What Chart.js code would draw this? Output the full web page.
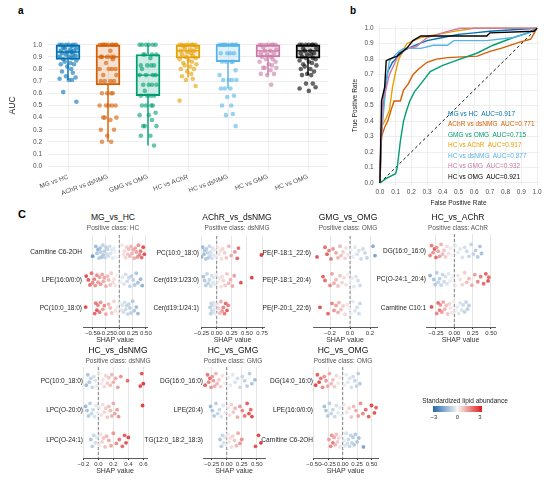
<!DOCTYPE html>
<html><head><meta charset="utf-8">
<script src="https://cdn.jsdelivr.net/npm/chart.js@4.4.1/dist/chart.umd.min.js"></script>
<style>
body{margin:0;background:#fff;font-family:'Liberation Sans',Arial,sans-serif}
#fig{position:relative;width:550px;height:484px;overflow:hidden;background:#fff}
#fig canvas{position:absolute}
.t{position:absolute;white-space:pre;transform:translate(-50%,-50%);line-height:1}
.l{position:absolute;white-space:pre;line-height:1}
</style></head>
<body><div id="fig"></div>
<script>
// ---- panel a: cross-validation AUC per comparison
const GROUPS = ['MG vs HC', 'AChR vs dsNMG', 'GMG vs OMG', 'HC vs AChR', 'HC vs dsNMG', 'HC vs GMG', 'HC vs OMG'];
const GCOL = ['#0072B2', '#D55E00', '#009E73', '#E69F00', '#56B4E9', '#CC79A7', '#000000'];
const AUC_TICKS = [0, 0.1, 0.2, 0.3, 0.4, 0.5, 0.6, 0.7, 0.8, 0.9, 1.0];
const Q1 = [0.88, 0.67, 0.58, 0.89, 0.86, 0.90, 0.89];
const MED = [0.94, 0.90, 0.75, 0.95, 1.00, 0.95, 0.95];
const Q3 = [1.00, 1.00, 0.92, 1.00, 1.00, 1.00, 1.00];
const WLO = [0.71, 0.20, 0.17, 0.73, 0.64, 0.75, 0.75];
const WHI = [1.00, 1.00, 1.00, 1.00, 1.00, 1.00, 1.00];
const aucMgHc = [1,1,1,1,1,1,0.99,0.98,0.97,0.97,0.96,0.95,0.95,0.94,0.94,0.93,0.92,0.92,0.91,0.90,0.90,0.89,0.88,0.87,0.86,0.85,0.84,0.84,0.82,0.80,0.78,0.77,0.74,0.73,0.72,0.71,0.71,0.61,0.53];
const aucAchrDs = [1,1,1,1,1,1,1,1,1,1,0.95,0.9,0.9,0.9,0.9,0.9,0.88,0.85,0.8,0.8,0.8,0.8,0.75,0.75,0.7,0.7,0.7,0.7,0.6,0.6,0.6,0.6,0.5,0.5,0.5,0.5,0.5,0.4,0.4,0.4,0.38,0.3,0.3,0.25,0.2,0.2];
const aucGmgOmg = [1,1,1,1,1,1,0.92,0.92,0.92,0.92,0.89,0.83,0.83,0.83,0.83,0.8,0.75,0.75,0.75,0.75,0.67,0.67,0.67,0.67,0.62,0.58,0.58,0.58,0.58,0.5,0.5,0.5,0.5,0.44,0.42,0.42,0.38,0.33,0.33,0.33,0.25,0.25,0.17];
const aucHcAchr = [1,1,1,1,1,1,1,0.99,0.98,0.97,0.96,0.95,0.95,0.94,0.93,0.92,0.91,0.90,0.89,0.88,0.87,0.86,0.85,0.84,0.83,0.82,0.80,0.80,0.78,0.76,0.74,0.72,0.71,0.66,0.54];
const aucHcDs = [1,1,1,1,1,1,1,1,1,1,0.93,0.93,0.93,0.93,0.86,0.86,0.86,0.86,0.79,0.75,0.71,0.71,0.71,0.71,0.64,0.64,0.64,0.58,0.57,0.5,0.5,0.43,0.42,0.33];
const aucHcGmg = [1,1,1,1,1,1,1,0.98,0.96,0.95,0.95,0.93,0.93,0.92,0.90,0.90,0.88,0.88,0.86,0.86,0.84,0.83,0.81,0.81,0.81,0.79,0.76,0.76,0.75,0.67];
const aucHcOmg = [1,1,1,1,1,1,1,0.97,0.97,0.95,0.95,0.93,0.93,0.92,0.92,0.90,0.89,0.89,0.88,0.87,0.86,0.85,0.84,0.83,0.82,0.80,0.80,0.78,0.76,0.75,0.75,0.68,0.68,0.65,0.64,0.62];
const AUCS = [aucMgHc, aucAchrDs, aucGmgOmg, aucHcAchr, aucHcDs, aucHcGmg, aucHcOmg];

// ---- panel b: ROC curves [fpr, tpr]
const RATE_TICKS = [0, 0.1, 0.2, 0.3, 0.4, 0.5, 0.6, 0.7, 0.8, 0.9, 1.0];
const rocMgHc = [[0,0],[0.005,0.2],[0.02,0.5],[0.03,0.6],[0.04,0.66],[0.05,0.72],[0.08,0.78],[0.1,0.8],[0.12,0.84],[0.16,0.86],[0.2,0.88],[0.25,0.9],[0.3,0.92],[0.4,0.94],[0.5,0.96],[0.6,0.97],[0.7,0.98],[0.85,0.99],[1,1]];
const rocAchrDs = [[0,0],[0.01,0.3],[0.03,0.36],[0.05,0.4],[0.07,0.47],[0.09,0.53],[0.13,0.53],[0.15,0.6],[0.18,0.64],[0.21,0.7],[0.25,0.74],[0.3,0.78],[0.36,0.8],[0.43,0.81],[0.62,0.82],[0.7,0.85],[0.77,0.87],[0.89,0.91],[0.96,0.93],[1,1]];
const rocGmgOmg = [[0,0],[0.04,0.03],[0.1,0.06],[0.11,0.1],[0.13,0.27],[0.15,0.4],[0.17,0.47],[0.19,0.53],[0.22,0.59],[0.26,0.64],[0.32,0.72],[0.4,0.76],[0.51,0.8],[0.62,0.84],[0.72,0.89],[0.85,0.94],[0.94,0.97],[1,1]];
const rocHcAchr = [[0,0],[0.01,0.36],[0.04,0.42],[0.06,0.47],[0.08,0.62],[0.1,0.72],[0.12,0.8],[0.17,0.9],[0.26,0.94],[0.47,0.98],[0.6,1],[1,1]];
const rocHcDs = [[0,0],[0.01,0.32],[0.04,0.64],[0.06,0.79],[0.12,0.85],[0.15,0.87],[0.26,0.87],[0.34,0.89],[0.43,0.89],[0.47,0.92],[0.68,0.92],[0.85,0.94],[0.95,0.97],[1,1]];
const rocHcGmg = [[0,0],[0,0.1],[0.02,0.53],[0.06,0.7],[0.11,0.81],[0.17,0.87],[0.23,0.88],[0.3,0.94],[0.43,0.98],[0.51,1],[1,1]];
const rocHcOmg = [[0,0],[0.01,0.53],[0.03,0.62],[0.04,0.79],[0.06,0.8],[0.11,0.82],[0.17,0.87],[0.21,0.92],[0.26,0.95],[0.68,0.95],[0.7,0.97],[0.98,0.98],[1,1]];
const ROCS = [rocMgHc, rocAchrDs, rocGmgOmg, rocHcAchr, rocHcDs, rocHcGmg, rocHcOmg];
const ROC_AUC = ['0.917', '0.771', '0.715', '0.917', '0.877', '0.932', '0.921'];

// ---- panel c: SHAP values [shap, standardized abundance]
const ROW_MG_HC = ['Carnitine C6-2OH', 'LPE(16:0/0:0)', 'PC(10:0_18:0)'];
const mgA = [[-0.50,-2.2],[-0.44,-1.4],[-0.42,-1.2],[-0.40,-1.5],[-0.38,-1.1],[-0.36,-1.3],[-0.35,-1.0],[-0.33,-1.2],[-0.31,-0.9],[-0.30,-1.1],[-0.28,-1.0],[-0.27,-0.8],[-0.25,-0.9],[-0.23,-0.7],[-0.22,-0.8],[-0.20,-0.6],[-0.18,-0.6],[-0.16,-0.5],[-0.14,-0.4],[-0.12,-0.4],[-0.10,-0.3],[-0.08,-0.2],[-0.06,-0.1],[0.05,0.3],[0.08,0.4],[0.10,0.5],[0.12,0.6],[0.14,0.7],[0.16,0.8],[0.18,0.9],[0.20,1.0],[0.22,1.0],[0.24,1.1],[0.26,1.2],[0.28,1.2],[0.30,1.3],[0.32,1.4],[0.34,1.5],[0.36,1.6],[0.38,1.8],[0.40,2.0],[0.42,2.2],[0.45,2.7],[0.47,2.6]];
const mgB = [[-0.62,2.7],[-0.58,2.5],[-0.55,2.1],[-0.52,2.0],[-0.50,1.8],[-0.47,1.9],[-0.45,1.6],[-0.42,1.7],[-0.40,1.5],[-0.37,1.4],[-0.35,1.5],[-0.32,1.3],[-0.30,1.2],[-0.28,1.3],[-0.25,1.1],[-0.22,1.0],[-0.20,1.0],[-0.17,0.8],[-0.15,0.7],[-0.12,0.5],[-0.10,0.4],[-0.07,0.3],[-0.04,0.1],[0.03,-0.2],[0.06,-0.4],[0.09,-0.5],[0.12,-0.6],[0.15,-0.7],[0.18,-0.8],[0.20,-0.9],[0.23,-1.0],[0.26,-1.0],[0.29,-1.1],[0.32,-1.2],[0.35,-1.3],[0.40,-1.5],[0.43,-1.7]];
const mgC = [[-0.63,2.8],[-0.46,2.3],[-0.44,2.0],[-0.42,2.5],[-0.40,1.8],[-0.37,1.9],[-0.35,1.6],[-0.31,1.4],[-0.28,1.7],[-0.25,1.3],[-0.20,1.1],[-0.17,1.0],[-0.14,0.8],[-0.10,0.6],[-0.07,0.4],[-0.04,0.2],[-0.02,0.1],[0.02,-0.2],[0.04,-0.4],[0.06,-0.5],[0.08,-0.6],[0.10,-0.6],[0.12,-0.7],[0.14,-0.8],[0.16,-0.8],[0.18,-0.9],[0.20,-1.0],[0.22,-1.0],[0.25,-1.1],[0.28,-1.2],[0.32,-1.4],[0.35,-1.5]];

const ROW_ACHR_DS = ['PC(10:0_18:0)', 'Cer(d19:1/23:0)', 'Cer(d19:1/24:1)'];
const acA = [[-0.25,-1.6],[-0.23,-1.4],[-0.21,-1.3],[-0.20,-1.2],[-0.18,-1.1],[-0.17,-1.0],[-0.15,-0.9],[-0.14,-1.0],[-0.12,-0.8],[-0.11,-0.7],[-0.10,-0.6],[-0.08,-0.6],[-0.07,-0.5],[-0.05,-0.4],[-0.04,-0.3],[-0.02,-0.2],[0.02,0.2],[0.04,0.3],[0.06,0.4],[0.08,0.5],[0.10,0.6],[0.13,0.7],[0.16,0.8],[0.20,1.0],[0.24,1.2],[0.30,1.6],[0.34,2.4],[0.36,2.2],[0.74,3.0]];
const acB = [[-0.22,-1.3],[-0.20,-1.1],[-0.18,-1.0],[-0.16,-0.9],[-0.14,-0.9],[-0.12,-0.8],[-0.10,-0.7],[-0.08,-0.6],[-0.06,-0.5],[-0.05,-0.4],[-0.03,-0.3],[-0.01,-0.2],[0.02,0.2],[0.05,0.3],[0.07,0.4],[0.09,0.5],[0.11,0.6],[0.14,0.7],[0.17,0.8],[0.20,1.0],[0.23,1.1],[0.26,1.2],[0.29,1.4],[0.40,2.6],[0.58,2.9]];
const acC = [[-0.11,-1.0],[-0.10,-0.9],[-0.09,-0.8],[-0.08,-0.7],[-0.07,-0.7],[-0.06,-0.6],[-0.05,-0.5],[-0.04,-0.4],[-0.03,-0.3],[-0.02,-0.2],[0.01,0.3],[0.03,0.6],[0.05,0.9],[0.07,1.2],[0.09,1.5],[0.11,1.8],[0.13,2.0],[0.15,2.2],[0.17,2.4],[0.19,1.9]];

const ROW_GMG_OMG = ['PE(P-18:1_22:6)', 'PE(P-18:1_20:4)', 'PE(P-20:1_22:6)'];
const gmA = [[-0.33,2.6],[-0.25,2.2],[-0.23,2.4],[-0.21,1.9],[-0.19,2.0],[-0.17,1.6],[-0.14,1.3],[-0.12,1.1],[-0.10,1.0],[-0.09,0.9],[-0.07,0.7],[-0.05,0.6],[-0.04,0.4],[-0.02,0.3],[0.01,-0.2],[0.03,-0.3],[0.05,-0.4],[0.07,-0.5],[0.09,-0.6],[0.11,-0.7],[0.13,-0.7],[0.15,-0.8],[0.17,-0.9],[0.23,-1.8],[0.25,-2.0]];
const gmB = [[-0.27,2.4],[-0.25,2.2],[-0.20,1.8],[-0.18,1.4],[-0.16,1.2],[-0.14,1.0],[-0.12,0.9],[-0.10,0.8],[-0.08,0.6],[-0.06,0.5],[-0.04,0.4],[-0.02,0.2],[0.00,-0.1],[0.02,-0.3],[0.04,-0.4],[0.06,-0.5],[0.08,-0.6],[0.10,-0.7]];
const gmC = [[-0.30,2.7],[-0.22,2.3],[-0.18,1.8],[-0.16,1.6],[-0.14,1.4],[-0.12,1.2],[-0.11,1.0],[-0.09,0.9],[-0.07,0.7],[-0.05,0.5],[-0.03,0.3],[-0.01,0.1],[0.01,-0.2],[0.03,-0.3],[0.05,-0.5],[0.07,-0.6],[0.09,-0.7],[0.10,-0.8]];

const ROW_HC_ACHR = ['DG(16:0_16:0)', 'PC(O-24:1_20:4)', 'Carnitine C10:1'];
const haA = [[-0.33,1.8],[-0.31,2.0],[-0.29,1.6],[-0.27,2.4],[-0.25,2.2],[-0.24,1.5],[-0.22,1.3],[-0.20,1.4],[-0.18,1.1],[-0.16,1.0],[-0.14,0.8],[-0.12,0.7],[-0.10,0.5],[-0.08,0.4],[-0.05,0.2],[-0.03,0.1],[0.02,-0.2],[0.05,-0.3],[0.08,-0.4],[0.11,-0.5],[0.14,-0.6],[0.17,-0.7],[0.20,-0.8],[0.23,-0.9],[0.26,-0.9],[0.29,-1.0],[0.32,-1.1],[0.35,-1.2],[0.37,-1.3]];
const haB = [[-0.33,-1.6],[-0.28,-1.2],[-0.26,-1.1],[-0.24,-1.0],[-0.22,-0.9],[-0.20,-1.0],[-0.18,-0.8],[-0.16,-0.8],[-0.14,-0.7],[-0.12,-0.6],[-0.10,-0.5],[-0.08,-0.4],[-0.06,-0.3],[-0.03,-0.2],[0.02,0.2],[0.05,0.3],[0.08,0.4],[0.11,0.6],[0.14,0.7],[0.17,0.9],[0.20,1.0],[0.24,1.2],[0.28,1.4],[0.32,1.8],[0.36,2.0],[0.40,2.2],[0.43,2.4],[0.46,2.6],[0.47,2.2]];
const haC = [[-0.31,2.6],[-0.24,1.8],[-0.22,2.2],[-0.20,2.0],[-0.19,1.6],[-0.17,1.5],[-0.15,1.3],[-0.13,1.1],[-0.11,0.9],[-0.09,0.8],[-0.07,0.6],[-0.05,0.4],[-0.03,0.3],[-0.01,0.1],[0.02,-0.2],[0.04,-0.3],[0.06,-0.4],[0.08,-0.5],[0.10,-0.6],[0.12,-0.7],[0.14,-0.8],[0.16,-0.9],[0.18,-1.0],[0.20,-1.0]];

const ROW_HC_DS = ['PC(10:0_18:0)', 'LPC(O-20:0)', 'LPC(O-24:1)'];
const hdA = [[-0.16,-1.4],[-0.14,-1.2],[-0.12,-1.1],[-0.10,-0.9],[-0.08,-0.8],[-0.06,-0.6],[-0.04,-0.5],[-0.02,-0.3],[0.02,0.2],[0.04,0.3],[0.06,0.4],[0.08,0.5],[0.10,0.6],[0.12,0.7],[0.14,0.8],[0.16,0.9],[0.18,1.0],[0.20,1.1],[0.23,1.2],[0.26,1.4],[0.30,1.6],[0.39,2.2],[0.56,2.8],[0.58,2.6],[0.60,3.0]];
const hdB = [[-0.17,-1.5],[-0.15,-1.3],[-0.13,-1.1],[-0.11,-1.0],[-0.09,-0.8],[-0.07,-0.7],[-0.05,-0.5],[-0.03,-0.4],[-0.01,-0.2],[0.02,0.2],[0.04,0.4],[0.06,0.5],[0.08,0.6],[0.10,0.7],[0.12,0.8],[0.14,0.9],[0.16,1.0],[0.18,1.1],[0.20,1.2],[0.22,1.3],[0.25,1.4],[0.27,1.6],[0.59,2.9]];
const hdC = [[-0.10,-1.2],[-0.08,-1.0],[-0.06,-0.8],[-0.04,-0.6],[-0.02,-0.4],[0.01,0.2],[0.03,0.4],[0.05,0.6],[0.07,0.8],[0.09,0.9],[0.11,1.0],[0.14,1.2],[0.17,1.3],[0.20,1.5],[0.24,1.7],[0.28,2.0],[0.32,2.2],[0.35,2.4],[0.37,2.6],[0.40,2.8]];

const ROW_HC_GMG = ['DG(16:0_16:0)', 'LPE(20:4)', 'TG(12:0_18:2_18:3)'];
const hgA = [[-0.36,2.4],[-0.32,2.0],[-0.30,1.8],[-0.28,2.2],[-0.26,1.6],[-0.24,1.5],[-0.22,1.4],[-0.20,1.2],[-0.18,1.1],[-0.16,1.0],[-0.13,0.8],[-0.10,0.6],[-0.07,0.4],[-0.04,0.2],[0.03,-0.2],[0.06,-0.3],[0.10,-0.4],[0.14,-0.5],[0.18,-0.6],[0.22,-0.7],[0.26,-0.8],[0.30,-0.9],[0.34,-1.0],[0.38,-1.1],[0.42,-1.2],[0.47,-1.4]];
const hgB = [[-0.27,-1.4],[-0.24,-1.2],[-0.21,-1.1],[-0.18,-1.0],[-0.15,-0.8],[-0.12,-0.7],[-0.09,-0.5],[-0.06,-0.4],[-0.03,-0.2],[0.02,0.2],[0.05,0.4],[0.08,0.6],[0.11,0.8],[0.14,1.0],[0.18,1.2],[0.22,1.5],[0.26,1.8],[0.30,2.1],[0.34,2.4],[0.37,2.6],[0.40,2.3],[0.42,2.8]];
const hgC = [[-0.11,-1.2],[-0.09,-1.0],[-0.07,-0.8],[-0.05,-0.6],[-0.03,-0.4],[-0.01,-0.2],[0.02,0.2],[0.04,0.3],[0.06,0.4],[0.08,0.5],[0.10,0.6],[0.13,0.8],[0.16,1.0],[0.19,1.2],[0.22,1.5],[0.25,1.7],[0.48,2.6],[0.53,2.8],[0.57,3.0]];

const ROW_HC_OMG = ['DG(14:0_16:0)', 'LPE(16:0/0:0)', 'Carnitine C6-2OH'];
const hoA = [[-0.47,2.8],[-0.44,2.4],[-0.41,2.6],[-0.38,2.0],[-0.35,1.8],[-0.32,1.6],[-0.29,1.5],[-0.26,1.3],[-0.23,1.2],[-0.20,1.0],[-0.17,0.9],[-0.14,0.7],[-0.11,0.5],[-0.08,0.3],[-0.05,0.2],[0.03,-0.2],[0.06,-0.3],[0.09,-0.4],[0.12,-0.5],[0.15,-0.6],[0.18,-0.7],[0.21,-0.8],[0.24,-0.9],[0.27,-1.0],[0.30,-1.1]];
const hoB = [[-0.32,-1.3],[-0.29,-1.2],[-0.26,-1.1],[-0.23,-1.0],[-0.20,-0.9],[-0.17,-0.8],[-0.14,-0.7],[-0.11,-0.6],[-0.08,-0.4],[-0.05,-0.3],[-0.02,-0.2],[0.03,0.2],[0.07,0.4],[0.11,0.6],[0.15,0.8],[0.19,1.0],[0.23,1.2],[0.27,1.4],[0.31,1.6],[0.35,1.8],[0.40,2.2],[0.45,2.4],[0.50,2.8],[0.55,2.6],[0.58,2.4]];
const hoC = [[-0.24,1.4],[-0.21,1.8],[-0.19,1.6],[-0.17,2.0],[-0.15,1.3],[-0.13,1.1],[-0.11,0.9],[-0.09,0.7],[-0.07,0.5],[-0.05,0.4],[-0.03,0.2],[0.02,-0.3],[0.04,-0.4],[0.06,-0.5],[0.08,-0.6],[0.10,-0.7],[0.12,-0.8],[0.14,-0.8],[0.16,-0.9],[0.18,-1.0],[0.20,-1.1],[0.22,-1.1],[0.25,-1.2],[0.28,-1.3],[0.36,-2.0]];

// jitter pattern (layout only)
const JX = [-0.15, 0.12, -0.05, 0.19, -0.21, 0.02, 0.1, -0.12, 0.21, -0.08, 0.06, -0.18, 0.15, -0.02, 0.08];
const JY = [0.15, -0.2, 0.05, -0.08, 0.22, -0.14, 0.0, 0.18, -0.24, 0.1, -0.03, 0.2, -0.17, 0.08, -0.1];

Chart.defaults.font.family = "'Liberation Sans', Arial, sans-serif";
Chart.defaults.color = '#4d4d4d';
Chart.defaults.animation = false;
Chart.defaults.plugins.legend.display = false;
Chart.defaults.plugins.tooltip.enabled = false;

const fig = document.getElementById('fig');
function mk(left, top, w, h) {
  const c = document.createElement('canvas');
  c.width = w; c.height = h;
  c.style.left = left + 'px'; c.style.top = top + 'px';
  fig.appendChild(c);
  return c;
}
function txt(cls, x, y, s, css) {
  const d = document.createElement('div');
  d.className = cls; d.textContent = s;
  d.style.left = x + 'px'; d.style.top = y + 'px';
  Object.assign(d.style, css || {});
  fig.appendChild(d);
}
const alpha = (hex, a) => {
  const n = parseInt(hex.slice(1), 16);
  return `rgba(${n >> 16},${(n >> 8) & 255},${n & 255},${a})`;
};
const setTicks = vals => a => { a.ticks = vals.map(v => ({ value: v })); };
const fmt = (v, d) => (v < 0 ? '\u2212' : '') + Math.abs(v).toFixed(d);

// ---------- panel a
{
  const ds = [{
    type: 'bar', data: GROUPS.map((g, i) => ({ x: i, y: [Q1[i], Q3[i]] })),
    backgroundColor: GCOL.map(c => alpha(c, 0.18)), borderColor: GCOL, borderWidth: 1.3,
    borderSkipped: false, barThickness: 24, grouped: false, order: 3
  }];
  GROUPS.forEach((g, i) => {
    ds.push({
      type: 'line', showLine: true, spanGaps: false, pointRadius: 0, borderColor: GCOL[i], borderWidth: 1.4, order: 2,
      data: [{ x: i, y: WLO[i] }, { x: i, y: Q1[i] }, { x: i, y: null }, { x: i, y: Q3[i] }, { x: i, y: WHI[i] }, { x: i, y: null },
        { x: i - 0.3, y: MED[i] }, { x: i + 0.3, y: MED[i] }]
    });
    ds.push({
      type: 'scatter', order: 1, pointRadius: 2.3, borderWidth: 0, backgroundColor: alpha(GCOL[i], 0.6),
      data: AUCS[i].map((v, k) => ({ x: i + JX[k % JX.length], y: v }))
    });
  });
  new Chart(mk(0, 30, 335, 168), {
    type: 'scatter', data: { datasets: ds },
    options: {
      responsive: false, layout: { padding: { top: 6.5, right: 7, left: 0, bottom: 0 } },
      scales: {
        x: { type: 'linear', offset: false, min: -0.5, max: 6.5, afterBuildTicks: setTicks(GROUPS.map((g, i) => i)), afterFit: a => { a.height = 27; },
          ticks: { callback: v => GROUPS[v], minRotation: 20, maxRotation: 20, autoSkip: false, font: { size: 6.5 }, padding: 2, color: '#4d4d4d' },
          grid: { color: '#eeeeee', drawTicks: false, offset: false }, border: { display: false } },
        y: { min: -0.04, max: 1.04, afterBuildTicks: setTicks(AUC_TICKS), afterFit: a => { a.width = 48; },
          ticks: { callback: v => v.toFixed(1), font: { size: 6.5 }, padding: 6, color: '#4d4d4d' },
          grid: { color: '#eeeeee', drawTicks: false }, border: { display: false },
          title: { display: true, text: 'AUC', font: { size: 8.5 }, color: '#222', padding: { top: 8 } } }
      }
    }
  });
  txt('l', 18, 6, 'a', { fontWeight: 'bold', fontSize: '10px', color: '#000' });
}

// ---------- panel b
{
  const ds = ROCS.map((r, i) => ({
    type: 'line', data: r.map(p => ({ x: p[0], y: p[1] })), borderColor: GCOL[i], borderWidth: 1.4,
    pointRadius: 0, showLine: true, order: 8 - i
  }));
  ds.push({ type: 'line', data: [{ x: 0, y: 0 }, { x: 1, y: 1 }], borderColor: '#000', borderWidth: 0.9, borderDash: [3, 2.5], pointRadius: 0, showLine: true, order: 9 });
  new Chart(mk(338, 18, 212, 194), {
    type: 'scatter', data: { datasets: ds },
    options: {
      responsive: false, layout: { padding: { top: 6.7, right: 10.6, left: 0, bottom: 0 } },
      scales: {
        x: { type: 'linear', min: -0.015, max: 1.015, afterBuildTicks: setTicks(RATE_TICKS), afterFit: a => { a.height = 26.7; },
          ticks: { callback: v => v.toFixed(1), font: { size: 6.5 }, padding: 3, maxRotation: 0, autoSkip: false, color: '#4d4d4d' },
          grid: { color: '#eeeeee', drawTicks: false }, border: { display: false },
          title: { display: true, text: 'False Positive Rate', font: { size: 6.5 }, color: '#222', padding: { bottom: 5, top: 0 } } },
        y: { min: -0.015, max: 1.015, afterBuildTicks: setTicks(RATE_TICKS), afterFit: a => { a.width = 39.6; },
          ticks: { callback: v => v.toFixed(1), font: { size: 6.5 }, padding: 4, color: '#4d4d4d' },
          grid: { color: '#eeeeee', drawTicks: false }, border: { display: false },
          title: { display: true, text: 'True Positive Rate', font: { size: 6.5 }, color: '#222', padding: { top: 13, bottom: 0 } } }
      }
    }
  });
  txt('l', 350, 6, 'b', { fontWeight: 'bold', fontSize: '10px', color: '#000' });
  GROUPS.forEach((g, i) => {
    txt('l', 448, 110.5 + i * 10.5, g + '  AUC=' + ROC_AUC[i], { fontSize: '6.5px', color: GCOL[i] });
  });
}

// ---------- panel c
function zcol(z) {
  const t = Math.max(-1, Math.min(1, z / 3));
  const lo = [33, 102, 172], mid = [247, 247, 247], hi = [222, 28, 28];
  const e = t < 0 ? lo : hi, a = Math.abs(t);
  return `rgba(${mid.map((m, k) => Math.round(m + (e[k] - m) * a)).join(',')},0.85)`;
}
function shap(c) {
  const left = c.L - 78, w = c.R - left + 14, h = c.B - c.T + 17;
  const pts = [], cols = [];
  c.rows.forEach((row, r) => row.forEach(([s, z], k) => {
    pts.push({ x: s, y: r + JY[(k + r * 5) % JY.length] });
    cols.push(zcol(z));
  }));
  new Chart(mk(left, c.T, w, h), {
    type: 'scatter',
    data: { datasets: [
      { type: 'scatter', data: pts, backgroundColor: cols, pointRadius: 1.9, borderWidth: 0, order: 0 },
      { type: 'line', showLine: true, data: [{ x: 0, y: c.ymin }, { x: 0, y: c.ymax }], borderColor: '#777', borderWidth: 0.9, borderDash: [3, 2], pointRadius: 0, order: 1 }
    ] },
    options: {
      responsive: false, layout: { padding: { top: 0, right: 14, left: 0, bottom: 0 } },
      scales: {
        x: { type: 'linear', min: c.xmin, max: c.xmax, afterBuildTicks: setTicks(c.ticks), afterFit: a => { a.height = 17; },
          ticks: { callback: v => fmt(v, c.dec), font: { size: 6 }, padding: 1, maxRotation: 0, autoSkip: false, color: '#333' },
          grid: { color: '#e6e6e6', tickColor: '#333', tickLength: 2 }, border: { color: '#333', width: 0.8 },
          title: { display: true, text: 'SHAP value', font: { size: 7 }, color: '#333', padding: 0 } },
        y: { type: 'linear', reverse: true, min: c.ymin, max: c.ymax, afterBuildTicks: setTicks([0, 1, 2]), afterFit: a => { a.width = 78; },
          ticks: { callback: v => c.labels[v], font: { size: 6.5 }, color: '#222', padding: c.pad },
          grid: { display: false, drawTicks: false }, border: { display: false } }
      }
    }
  });
  txt('t', c.cx, c.T - 13, c.title, { fontSize: '8.5px', color: '#111' });
  txt('t', c.cx, c.T - 2, 'Positive class: ' + c.pos, { fontSize: '6.5px', color: '#555' });
}
const TOP = { T: 230, B: 327, ymin: -0.61, ymax: 2.68 };
const BOT = { T: 363, B: 458, ymin: -0.46, ymax: 2.59 };
shap({ ...TOP, title: 'MG_vs_HC', pos: 'HC', cx: 113, rows: [mgA, mgB, mgC], labels: ROW_MG_HC, L: 83, R: 147, xmin: -0.68, xmax: 0.52, ticks: [-0.5, -0.25, 0, 0.25, 0.5], dec: 2, pad: 1 });
shap({ ...TOP, title: 'AChR_vs_dsNMG', pos: 'dsNMG', cx: 237, rows: [acA, acB, acC], labels: ROW_ACHR_DS, L: 201, R: 264, xmin: -0.26, xmax: 0.783, ticks: [-0.25, 0, 0.25, 0.5, 0.75], dec: 2, pad: 2 });
shap({ ...TOP, title: 'GMG_vs_OMG', pos: 'OMG', cx: 348, rows: [gmA, gmB, gmC], labels: ROW_GMG_OMG, L: 313, R: 377, xmin: -0.37, xmax: 0.27, ticks: [-0.2, 0, 0.2], dec: 1, pad: 2 });
shap({ ...TOP, title: 'HC_vs_AChR', pos: 'AChR', cx: 458, rows: [haA, haB, haC], labels: ROW_HC_ACHR, L: 426, R: 495, xmin: -0.386, xmax: 0.555, ticks: [-0.25, 0, 0.25, 0.5], dec: 2, pad: 0 });
shap({ ...BOT, title: 'HC_vs_dsNMG', pos: 'dsNMG', cx: 118, rows: [hdA, hdB, hdC], labels: ROW_HC_DS, L: 83, R: 147, xmin: -0.204, xmax: 0.649, ticks: [-0.2, 0, 0.2, 0.4, 0.6], dec: 1, pad: 0 });
shap({ ...BOT, title: 'HC_vs_GMG', pos: 'GMG', cx: 233, rows: [hgA, hgB, hgC], labels: ROW_HC_GMG, L: 203, R: 265, xmin: -0.395, xmax: 0.638, ticks: [-0.25, 0, 0.25, 0.5], dec: 2, pad: 0 });
shap({ ...BOT, title: 'HC_vs_OMG', pos: 'OMG', cx: 343, rows: [hoA, hoB, hoC], labels: ROW_HC_OMG, L: 313, R: 378, xmin: -0.516, xmax: 0.613, ticks: [-0.5, -0.25, 0, 0.25, 0.5], dec: 2, pad: 0 });
txt('l', 18, 209, 'C', { fontWeight: 'bold', fontSize: '11px', color: '#000' });

// colour legend
txt('t', 465, 401, 'Standardized lipid abundance', { fontSize: '6.5px', color: '#222' });
{
  const bar = document.createElement('div');
  Object.assign(bar.style, { position: 'absolute', left: '433px', top: '406px', width: '49px', height: '6px',
    background: 'linear-gradient(to right, rgb(33,102,172), rgb(247,247,247), rgb(222,28,28))' });
  fig.appendChild(bar);
}
txt('t', 434, 417, '\u22123', { fontSize: '6px', color: '#333' });
txt('t', 457.5, 417, '0', { fontSize: '6px', color: '#333' });
txt('t', 480, 417, '3', { fontSize: '6px', color: '#333' });
</script>
</body></html>
